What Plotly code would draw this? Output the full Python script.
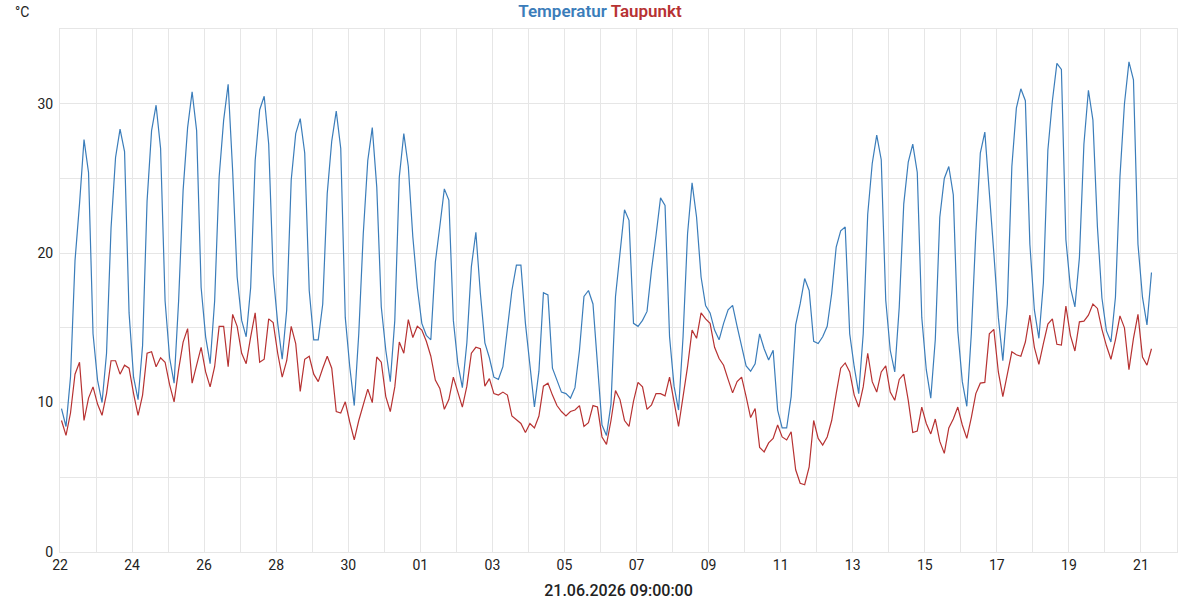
import pandas as pd
import plotly.graph_objects as go

start_time = "2026-05-22 01:00"
step = "3h"

temperatur = [
    9.6, 8.4, 11.7, 19.5, 23.3, 27.6, 25.4, 14.6, 11.5, 10.0, 13.3, 21.7, 26.4, 28.3, 26.8, 16.0,
    11.7, 10.2, 13.8, 23.5, 28.2, 29.9, 27.0, 16.8, 13.0, 11.3, 16.8, 24.2, 28.4, 30.8, 28.2, 17.7,
    14.4, 12.6, 16.8, 25.1, 28.9, 31.3, 25.5, 18.4,
    15.5, 14.4, 17.7, 26.2, 29.6, 30.5, 27.3, 18.6, 15.3, 12.9, 16.2, 24.9, 28.0, 29.0, 26.7, 17.5,
    14.2, 14.2, 16.6, 24.0, 27.5, 29.5, 27.0, 15.7, 12.4, 9.8, 14.6, 21.3, 26.2, 28.4, 24.4, 16.4,
    13.5, 11.4, 15.5, 25.1, 28.0, 25.8, 21.1, 17.7, 15.3,
    14.5, 14.2, 19.4, 21.8, 24.3, 23.55, 15.5, 12.6, 11.0, 14.0, 19.1, 21.4, 17.3, 14.0, 13.0, 11.7,
    11.55, 12.4, 15.1, 17.5, 19.2, 19.2, 15.3, 12.4, 9.7, 12.1, 17.35, 17.2, 12.3, 11.5, 10.7, 10.6,
    10.3, 11.0, 13.5, 17.1, 17.5, 16.6, 12.85, 8.5, 7.8,
    9.9, 17.1, 20.2, 22.9, 22.2, 15.3, 15.1, 15.5, 16.1, 18.9, 21.2, 23.7, 23.2, 14.4, 11.1, 9.5,
    14.4, 21.3, 24.7, 22.4, 18.4, 16.5, 16.0, 14.85, 14.2, 15.3, 16.2, 16.5, 15.1, 13.7, 12.45, 12.1,
    12.6, 14.6, 13.6, 12.85, 13.5, 9.5, 8.3, 8.3, 10.4,
    15.2, 16.6, 18.3, 17.5, 14.1, 13.95, 14.4, 15.1, 17.3, 20.4, 21.5, 21.75, 14.6, 12.4, 10.6, 14.6,
    22.6, 26.0, 27.9, 26.25, 16.85, 13.5, 12.05, 16.4, 23.3, 26.1, 27.3, 25.4, 15.7, 12.2, 10.3, 14.2,
    22.4, 25.0, 25.8, 23.9, 14.8, 11.4, 9.75, 14.6, 21.3,
    26.7, 28.1, 24.2, 20.0, 15.7, 12.8, 16.6, 25.8, 29.7, 31.0, 30.2, 20.6, 16.2, 14.3, 18.0, 26.9,
    30.2, 32.7, 32.3, 20.9, 17.7, 16.4, 19.7, 27.3, 30.9, 28.9, 21.75, 17.0, 14.8, 14.05, 17.05, 25.1,
    30.0, 32.8, 31.6, 20.6, 17.05, 15.2, 18.7,
]

taupunkt = [
    8.8, 7.8, 9.3, 11.9, 12.7, 8.8, 10.3, 11.05, 9.9, 9.15, 10.6, 12.8, 12.8, 11.9, 12.5, 12.3,
    10.6, 9.15, 10.5, 13.3, 13.4, 12.4, 13.0, 12.7, 11.2, 10.05, 12.2, 14.05, 14.95, 11.3, 12.5, 13.7,
    12.05, 11.05, 12.4, 15.1, 15.1, 12.4, 15.9, 15.1,
    13.3, 12.6, 14.4, 16.0, 12.7, 12.9, 15.6, 15.35, 13.3, 11.7, 12.8, 15.1, 13.95, 10.75, 12.9, 13.1,
    11.9, 11.4, 12.3, 13.1, 12.3, 9.4, 9.3, 10.05, 8.7, 7.5, 8.8, 9.8, 10.9, 10.0, 13.05, 12.7,
    10.4, 9.4, 11.05, 14.05, 13.3, 15.55, 14.35, 15.1, 14.85,
    14.1, 13.1, 11.5, 10.95, 9.55, 10.2, 11.7, 10.7, 9.7, 11.1, 13.3, 13.7, 13.6, 11.1, 11.6, 10.6,
    10.5, 10.7, 10.5, 9.1, 8.85, 8.6, 8.0, 8.6, 8.3, 9.1, 11.1, 11.3, 10.5, 9.8, 9.4, 9.1,
    9.4, 9.5, 9.8, 8.4, 8.65, 9.8, 9.7, 7.7, 7.2,
    8.8, 10.8, 10.2, 8.8, 8.4, 10.1, 11.35, 11.05, 9.55, 9.85, 10.6, 10.6, 10.45, 11.7, 9.95, 8.4,
    10.4, 12.4, 14.85, 14.3, 16.0, 15.6, 15.3, 13.7, 12.95, 12.5, 11.55, 10.65, 11.4, 11.7, 10.4, 9.0,
    9.6, 7.0, 6.7, 7.3, 7.6, 8.5, 7.7, 7.5, 8.05,
    5.5, 4.6, 4.5, 5.7, 8.8, 7.6, 7.15, 7.7, 8.8, 10.6, 12.3, 12.65, 12.05, 10.5, 9.7, 11.05,
    13.3, 11.4, 10.7, 12.05, 12.45, 10.7, 10.15, 11.55, 11.9, 10.15, 8.0, 8.1, 9.7, 8.6, 7.9, 8.9,
    7.4, 6.6, 8.3, 8.9, 9.7, 8.5, 7.6, 9.0, 10.6,
    11.3, 11.35, 14.6, 14.9, 12.05, 10.4, 11.9, 13.4, 13.2, 13.1, 14.05, 15.85, 13.7, 12.55, 13.95, 15.25,
    15.6, 13.9, 13.85, 16.45, 14.5, 13.45, 15.4, 15.45, 15.85, 16.6, 16.3, 14.9, 13.8, 12.9, 14.2, 15.8,
    15.0, 12.2, 14.3, 15.9, 13.05, 12.5, 13.6,
]

times = pd.date_range(start_time, periods=len(temperatur), freq=step)

title_text = "21.06.2026 09:00:00"
unit_label = "°C"

BLUE = "#3b7dba"
RED = "#b73232"
GRID = "#e6e6e6"
FONT = "Roboto"

fig = go.Figure()
fig.add_trace(go.Scatter(x=times, y=temperatur, mode="lines", name="Temperatur",
                         line=dict(color=BLUE, width=1.2)))
fig.add_trace(go.Scatter(x=times, y=taupunkt, mode="lines", name="Taupunkt",
                         line=dict(color=RED, width=1.2)))

fig.update_layout(
    width=1200, height=600,
    margin=dict(l=60, r=23, t=29, b=48, autoexpand=False),
    paper_bgcolor="white", plot_bgcolor="white",
    showlegend=False,
    font=dict(family=FONT, size=14, color="#222"),
    title=dict(
        text=f"<span style='color:{BLUE}'>Temperatur</span> <span style='color:{RED}'>Taupunkt</span>",
        x=0.5, xanchor="center", y=0.982, yanchor="middle",
        font=dict(family=FONT, size=17, weight=600),
    ),
)

fig.update_xaxes(
    range=["2026-05-22 00:00", "2026-06-22 00:00"],
    tickformat="%d", dtick=2 * 86400000, tick0="2026-05-22",
    showgrid=True, gridcolor=GRID, gridwidth=1,
    minor=dict(dtick=86400000, tick0="2026-05-22", showgrid=True, gridcolor=GRID, gridwidth=1),
    showline=True, linecolor=GRID, linewidth=1, mirror=True,
    ticks="", automargin=False,
    tickfont=dict(family=FONT, size=14, color="#222"),
    title=dict(text=title_text, font=dict(family=FONT, size=16, color="#222", weight=500), standoff=16),
    zeroline=False,
)
fig.update_yaxes(
    range=[0, 35], dtick=10, tick0=0,
    showgrid=True, gridcolor=GRID, gridwidth=1,
    minor=dict(dtick=5, showgrid=True, gridcolor=GRID, gridwidth=1),
    showline=True, linecolor=GRID, linewidth=1, mirror=True,
    ticks="", zeroline=False, automargin=False, ticklabelstandoff=3,
    tickfont=dict(family=FONT, size=14, color="#222"),
)

fig.add_annotation(text=unit_label, xref="paper", yref="paper",
                   x=-0.042, y=1.052, xanchor="left", yanchor="top",
                   showarrow=False, font=dict(family=FONT, size=14, color="#222"))

fig.write_html("out.html")
